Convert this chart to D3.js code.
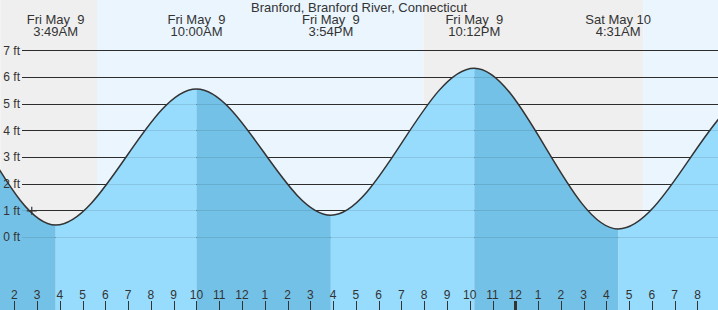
<!DOCTYPE html>
<html>
<head>
<meta charset="utf-8">
<title>Branford tide chart</title>
<style>
  body { margin: 0; background: #fff; }
  svg { display: block; font-family: "Liberation Sans", Arial, sans-serif; }
</style>
</head>
<body>
<div id="chart"></div>
<script src="https://d3js.org/d3.v7.min.js"></script>
<script>
// tide extremes (the first two and last two lie outside the window)
const tideTimes = ["2025-05-08 15:20", "2025-05-08 21:35", "2025-05-09 03:49", "2025-05-09 10:00",
                   "2025-05-09 15:54", "2025-05-09 22:12", "2025-05-10 04:31", "2025-05-10 10:45",
                   "2025-05-10 16:50"];
const tideHeights = [0.7, 6.4, 0.45, 5.55, 0.82, 6.33, 0.3, 5.5, 0.9];

// labelled extremes along the top
const labelTimes = ["2025-05-09 03:49", "2025-05-09 10:00", "2025-05-09 15:54", "2025-05-09 22:12", "2025-05-10 04:31"];
const labelDays = ["Fri May  9", "Fri May  9", "Fri May  9", "Fri May  9", "Sat May 10"];
const labelClock = ["3:49AM", "10:00AM", "3:54PM", "10:12PM", "4:31AM"];

// sun: night / day bands
const bandStarts = ["2025-05-09 01:23", "2025-05-09 05:38", "2025-05-09 19:58", "2025-05-10 05:37"];
const bandEnds = ["2025-05-09 05:38", "2025-05-09 19:58", "2025-05-10 05:37", "2025-05-10 08:55"];
const bandNight = [true, false, true, false];

const yTicks = [0, 1, 2, 3, 4, 5, 6, 7];
const nowTime = "2025-05-09 02:46";
const nowHeight = 0.98;

const W = 718, H = 310;
const parse = d3.timeParse("%Y-%m-%d %H:%M");

const svg = d3.select("#chart").append("svg")
    .attr("width", W).attr("height", H);

// hour 2 AM at x=14, midnight at x=515
const x = d3.scaleTime()
    .domain([parse("2025-05-09 02:00"), parse("2025-05-10 00:00")])
    .range([14.3, 515.3]);
const y = d3.scaleLinear().domain([0, 7]).range([237, 50.3]);

// background bands
svg.selectAll("rect.band")
    .data(bandStarts.map((s, i) => ({s: parse(s), e: parse(bandEnds[i]), night: bandNight[i]})))
    .join("rect")
    .attr("class", "band")
    .attr("x", d => x(d.s)).attr("y", 0)
    .attr("width", d => x(d.e) - x(d.s)).attr("height", H)
    .attr("fill", d => d.night ? "#efefef" : "#eaf5fe");

// grid lines
svg.append("g").selectAll("line")
    .data(yTicks)
    .join("line")
    .attr("x1", 22).attr("x2", W)
    .attr("y1", d => Math.round(y(d)) + 0.5).attr("y2", d => Math.round(y(d)) + 0.5)
    .attr("stroke", "#333");

// water
const tide = tideTimes.map((t, i) => ({t: parse(t), h: tideHeights[i]}));

const area = d3.area()
    .x(d => x(d.t)).y0(H).y1(d => y(d.h))
    .curve(d3.curveMonotoneX);
const line = d3.line()
    .x(d => x(d.t)).y(d => y(d.h))
    .curve(d3.curveMonotoneX);

const defs = svg.append("defs");
tide.slice(0, -1).forEach((d, i) => {
    defs.append("clipPath").attr("id", "seg" + i)
        .append("rect")
        .attr("x", x(d.t)).attr("y", 0)
        .attr("width", x(tide[i + 1].t) - x(d.t)).attr("height", H);
    const falling = tide[i + 1].h < d.h;
    svg.append("path")
        .datum(tide)
        .attr("clip-path", `url(#seg${i})`)
        .attr("d", area)
        .attr("fill", falling ? "#73c1e6" : "#97dcfd");
});

// faint grid showing through the water
svg.append("g").selectAll("line")
    .data(yTicks)
    .join("line")
    .attr("x1", 22).attr("x2", W)
    .attr("y1", d => Math.round(y(d)) + 0.5).attr("y2", d => Math.round(y(d)) + 0.5)
    .attr("stroke", "#000").attr("stroke-opacity", 0.1);

svg.append("path")
    .datum(tide)
    .attr("d", line)
    .attr("fill", "none")
    .attr("stroke", "#333")
    .attr("stroke-width", 1.5);

svg.append("g").selectAll("text")
    .data(yTicks)
    .join("text")
    .attr("x", 20).attr("y", d => y(d))
    .attr("dy", "0.35em")
    .attr("text-anchor", "end")
    .attr("fill", "#333")
    .style("font-size", "12px")
    .text(d => d + " ft");

// current time marker
const nx = x(parse(nowTime)), ny = y(nowHeight);
svg.append("path")
    .attr("d", `M${nx - 5},${ny}h10M${nx},${ny - 4}v8`)
    .attr("stroke", "#333").attr("stroke-width", 1.2);

// hour axis
const hours = d3.timeHour.range(parse("2025-05-09 02:00"), parse("2025-05-10 09:00"));
const xAxis = svg.append("g");
xAxis.selectAll("line")
    .data(hours)
    .join("line")
    .attr("x1", d => Math.round(x(d)) + 0.5).attr("x2", d => Math.round(x(d)) + 0.5)
    .attr("y1", 301).attr("y2", H)
    .attr("stroke", "#333")
    .attr("stroke-width", d => d.getHours() === 0 ? 3 : 1);
xAxis.selectAll("text")
    .data(hours)
    .join("text")
    .attr("x", d => x(d)).attr("y", 299)
    .attr("text-anchor", "middle")
    .attr("fill", "#333")
    .style("font-size", "12px")
    .text(d => d.getHours() % 12 || 12);

// title and extreme labels
svg.append("text")
    .attr("x", 359).attr("y", 12)
    .attr("text-anchor", "middle")
    .attr("fill", "#333")
    .style("font-size", "13px")
    .text("Branford, Branford River, Connecticut");

const lbl = svg.append("g").selectAll("g")
    .data(labelTimes.map((t, i) => ({t: parse(t), day: labelDays[i], clock: labelClock[i]})))
    .join("g");
lbl.append("text")
    .attr("x", d => x(d.t)).attr("y", 24)
    .attr("text-anchor", "middle")
    .attr("fill", "#333")
    .style("font-size", "13px")
    .style("white-space", "pre")
    .text(d => d.day);
lbl.append("text")
    .attr("x", d => x(d.t)).attr("y", 36)
    .attr("text-anchor", "middle")
    .attr("fill", "#333")
    .style("font-size", "13px")
    .text(d => d.clock);
</script>
</body>
</html>
